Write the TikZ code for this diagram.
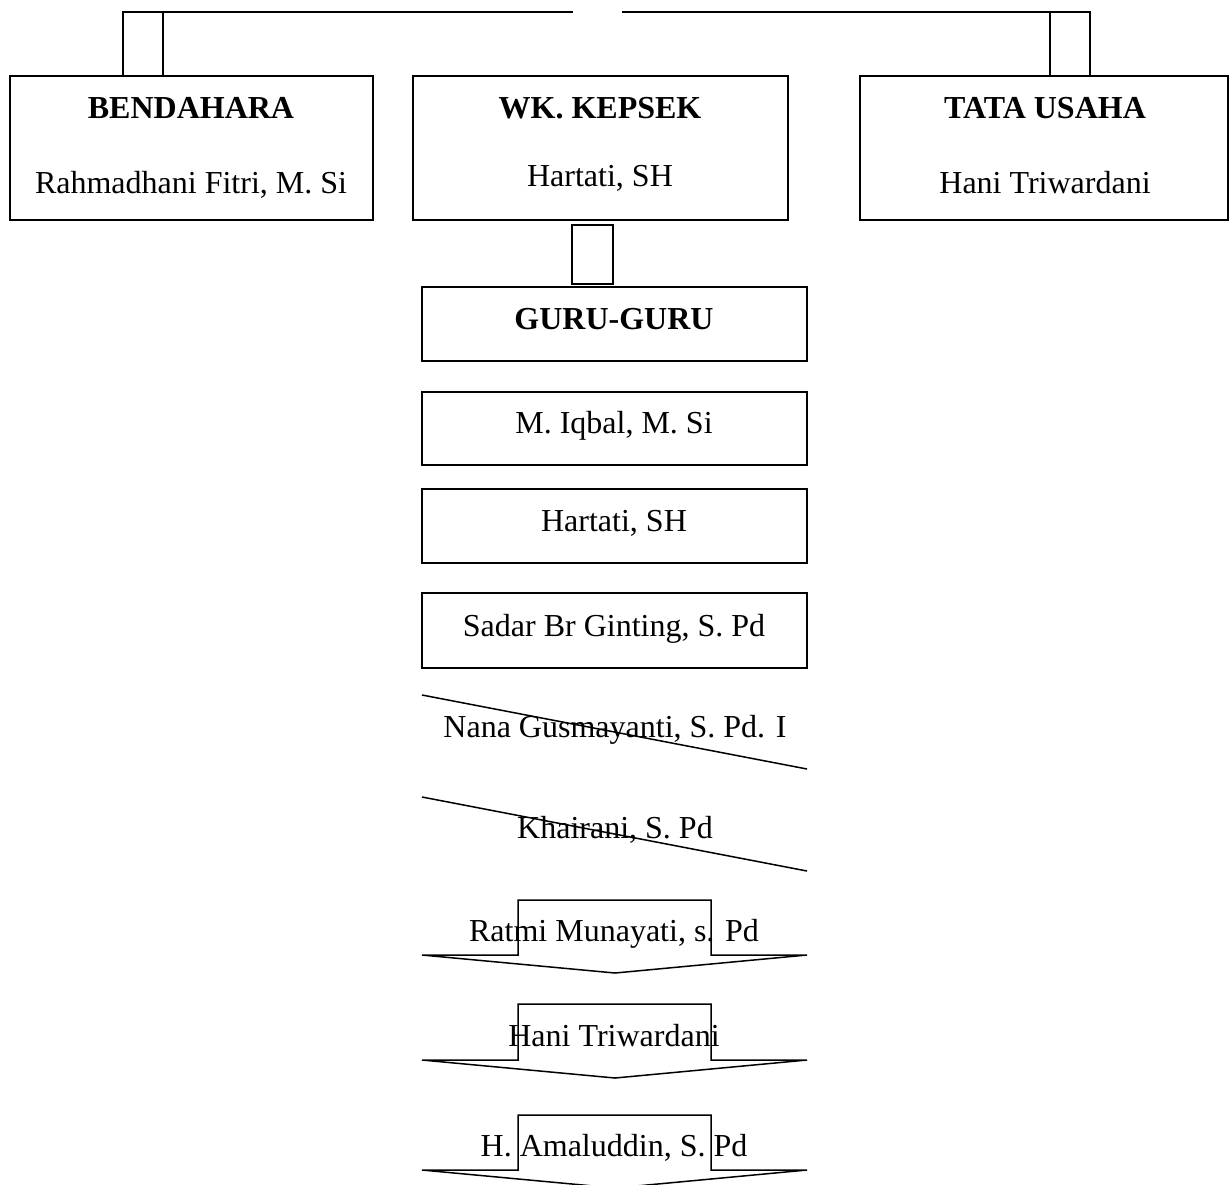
\documentclass[tikz,border=0pt]{standalone}
\usepackage{fontspec}
\setmainfont{Liberation Serif}
\begin{document}
\begin{tikzpicture}[x=1pt,y=-1pt,line width=1.5pt,line join=miter,
  box/.style={draw,rectangle,inner sep=0pt,outer sep=0pt,anchor=north west},
  txt/.style={font=\fontsize{32}{38}\selectfont,anchor=base,inner sep=0pt},
  ttl/.style={font=\fontsize{32}{38}\selectfont\bfseries,anchor=base,inner sep=0pt}]
\useasboundingbox (0,0) rectangle (1230,1184);
% top connector lines
\coordinate (tl1) at (139,12);
\coordinate (tl2) at (573,12);
\coordinate (tr1) at (622,12);
\coordinate (tr2) at (1077,12);
\draw (tl1) -- (tl2);
\draw (tr1) -- (tr2);
% small connector boxes
\node[box,minimum width=40pt,minimum height=64pt] (cl) at (123,12) {};
\node[box,minimum width=40pt,minimum height=64pt] (cr) at (1050,12) {};
\node[box,minimum width=41pt,minimum height=59pt] (cm) at (572,225) {};
% main boxes
\node[box,minimum width=363pt,minimum height=144pt] (bend) at (10,76) {};
\node[box,minimum width=375pt,minimum height=144pt] (wk) at (413,76) {};
\node[box,minimum width=368pt,minimum height=144pt] (tu) at (860,76) {};
\node[ttl] (bendT) at (191,118) {BENDAHARA};
\node[txt] (bendN) at (191,193) {Rahmadhani Fitri, M. Si};
\node[ttl] (wkT) at (600,118) {WK. KEPSEK};
\node[txt] (wkN) at (600,186) {Hartati, SH};
\node[ttl] (tuT) at (1045,118) {TATA USAHA};
\node[txt] (tuN) at (1045,193) {Hani Triwardani};
% teacher list
\node[box,minimum width=385pt,minimum height=74pt] (guru) at (422,287) {};
\node[ttl] (guruT) at (614,329) {GURU-GURU};
\node[box,minimum width=385pt,minimum height=73pt] (iqbal) at (422,392) {};
\node[txt] (iqbalT) at (614,433) {M. Iqbal, M. Si};
\node[box,minimum width=385pt,minimum height=74pt] (hart) at (422,489) {};
\node[txt] (hartT) at (614,531) {Hartati, SH};
\node[box,minimum width=385pt,minimum height=75pt] (sadar) at (422,593) {};
\node[txt] (sadarT) at (614,636) {Sadar Br Ginting, S. Pd};
% slanted lines
\coordinate (n1) at (422,695);
\coordinate (n2) at (807,769);
\draw (n1) -- (n2);
\node[txt] (nana) at (615,737) {Nana Gusmayanti, S. Pd. I};
\coordinate (k1) at (422,797);
\coordinate (k2) at (807,871);
\draw (k1) -- (k2);
\node[txt] (khai) at (615,838) {Khairani, S. Pd};
% arrow shapes
\draw (422,955) -- (518,955) -- (518,900) -- (711,900) -- (711,955) -- (807,955) -- (615,973) -- cycle;
\node[txt] (ratmi) at (614,941) {Ratmi Munayati, s. Pd};
\draw (422,1060) -- (518,1060) -- (518,1004) -- (711,1004) -- (711,1060) -- (807,1060) -- (615,1078) -- cycle;
\node[txt] (hani) at (614,1046) {Hani Triwardani};
\begin{scope}
\clip (0,0) rectangle (1230,1184);
\draw (422,1170) -- (518,1170) -- (518,1115) -- (711,1115) -- (711,1170) -- (807,1170) -- (615,1188) -- cycle;
\end{scope}
\node[txt] (amal) at (614,1156) {H. Amaluddin, S. Pd};
\end{tikzpicture}
\end{document}
